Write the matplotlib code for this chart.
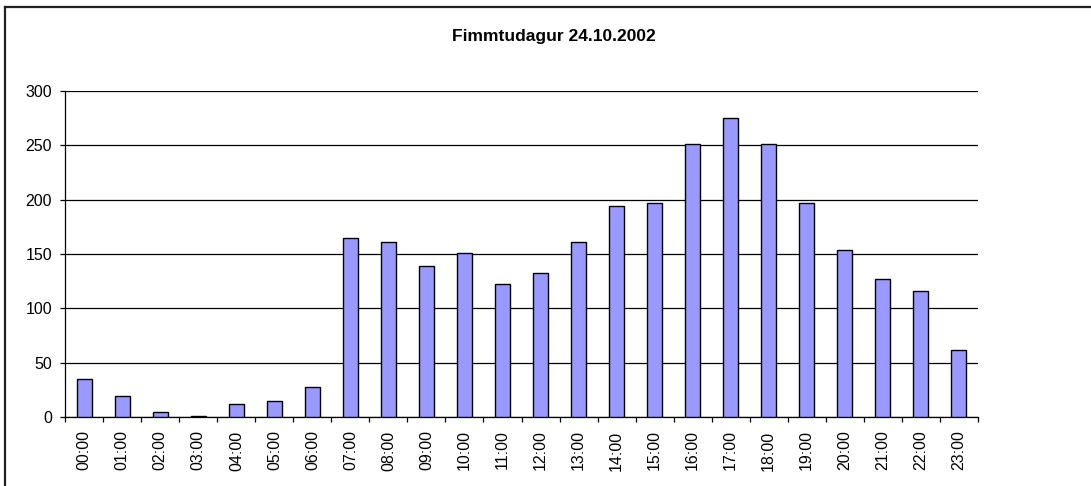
import matplotlib

matplotlib.use("Agg")
import matplotlib.pyplot as plt
import numpy as np
from matplotlib.lines import Line2D
from matplotlib.ticker import FixedLocator

TITLE = "Fimmtudagur 24.10.2002"
HOURS = [f"{h:02d}:00" for h in range(24)]
COUNTS = [35, 20, 5, 1, 12, 15, 28, 165, 161, 139, 151, 122,
          133, 161, 194, 197, 251, 275, 251, 197, 154, 127, 116, 62]
Y_TICKS = [0, 50, 100, 150, 200, 250, 300]

BAR_COLOR = "#9999ff"
FONT = ["Liberation Sans", "Arial", "DejaVu Sans"]


def plot_counts(out_path: str) -> None:
    plt.rcParams["font.family"] = FONT
    fig = plt.figure(figsize=(10.91, 4.86), dpi=100)
    fig.patch.set_facecolor("white")

    # chart frame: only left and top edges fall inside the picture
    fig.add_artist(Line2D([5 / 1091, 5 / 1091], [0, 1 - 7 / 486], transform=fig.transFigure,
                          color="#222222", lw=1.6))
    fig.add_artist(Line2D([5 / 1091, 1], [1 - 7 / 486, 1 - 7 / 486], transform=fig.transFigure,
                          color="#222222", lw=1.6))

    fig.text(554 / 1091, 1 - 36.5 / 486, TITLE, ha="center", va="center",
             fontsize=12.5, fontweight="bold")

    ax = fig.add_axes([65.3 / 1091, 1 - 417.3 / 486, (977.7 - 65.3) / 1091, (417.3 - 90.7) / 486])
    x = np.arange(len(HOURS))
    ax.bar(x, COUNTS, width=0.41, color=BAR_COLOR, edgecolor="black", linewidth=1.0, zorder=3)

    ax.set_xlim(-0.5, len(HOURS) - 0.5)
    ax.set_ylim(0, 300)
    ax.set_yticks(Y_TICKS)
    ax.yaxis.grid(True, color="black", linewidth=0.9, zorder=0)
    ax.set_axisbelow(True)

    ax.set_xticks(x)
    ax.set_xticklabels(HOURS, rotation=90, fontsize=11.5)
    ax.xaxis.set_minor_locator(FixedLocator(np.arange(-0.5, len(HOURS), 1.0)))
    ax.tick_params(axis="x", which="major", length=0, pad=9.5)
    ax.tick_params(axis="x", which="minor", length=3.5, width=0.9, direction="out")
    ax.tick_params(axis="y", length=3.6, width=0.9, pad=5.8, labelsize=11.5)

    for side in ("top", "right"):
        ax.spines[side].set_visible(False)
    for side in ("left", "bottom"):
        ax.spines[side].set_linewidth(0.9)
        ax.spines[side].set_color("black")

    fig.savefig(out_path, dpi=100, facecolor="white")
    plt.close(fig)


def main() -> None:
    plot_counts("out.png")


if __name__ == "__main__":
    main()
